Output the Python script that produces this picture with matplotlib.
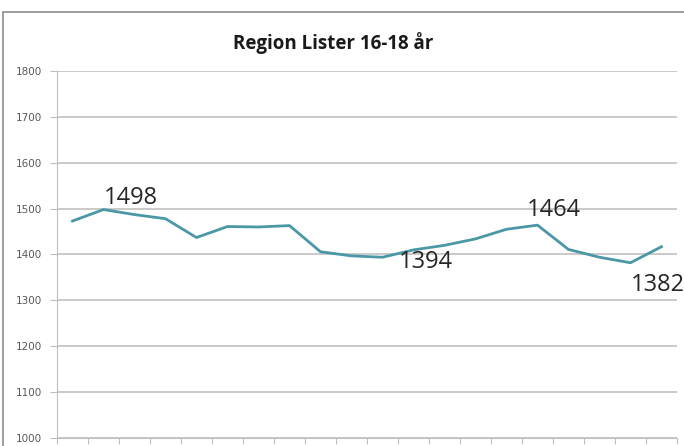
import numpy as np
import matplotlib.pyplot as plt
from matplotlib.patches import Rectangle

# values, one per period
verdier = [1473, 1498, 1487, 1478, 1437, 1461, 1460, 1463, 1406, 1397,
           1394, 1410, 1420, 1434, 1455, 1464, 1411, 1394, 1382, 1417]
yticks = [1000, 1100, 1200, 1300, 1400, 1500, 1600, 1700, 1800]
# labelled points: index and pixel offset of label
label_idx = [1, 10, 15, 18]
label_off = [(27, 12), (43, -5), (16, 15), (27, -22)]

x = np.arange(len(verdier))

fig = plt.figure(figsize=(6.84, 4.46), dpi=100)
fig.patch.set_facecolor('white')
ax = fig.add_axes([57/684, 8/446, 620/684, 367/446])

# gridlines
ax.set_axisbelow(True)
ax.yaxis.grid(True, color='#c6c6c6', linewidth=1.3)

ax.plot(x, verdier, color='#4a97a6', linewidth=2, solid_joinstyle='round')

for i, (dx, dy) in zip(label_idx, label_off):
    ax.annotate(str(verdier[i]), (x[i], verdier[i]), xytext=(dx, dy),
                textcoords='offset pixels', ha='center', va='center',
                fontsize=17, family='Open Sans', color='#262626',
                annotation_clip=False)

ax.set_xlim(-0.5, len(verdier) - 0.5)
ax.set_ylim(1000, 1800)
ax.set_yticks(yticks)
ax.set_yticklabels([str(t) for t in yticks], fontsize=7.5, color='#595959',
                   family='Liberation Sans Narrow')
ax.tick_params(axis='y', length=5, color='#bfbfbf', pad=6)
ax.set_xticks(np.arange(-0.5, len(verdier), 1))
ax.set_xticklabels([])
ax.tick_params(axis='x', length=4, color='#bfbfbf')

for s in ['top', 'right']:
    ax.spines[s].set_visible(False)
ax.spines['left'].set_color('#bfbfbf')
ax.spines['bottom'].set_color('#bfbfbf')

fig.text(333/684, 1 - 43/446, 'Region Lister 16-18 år', ha='center', va='center',
         fontsize=13.5, fontweight='bold', family='Open Sans', color='#1a1a1a')

# outer chart border
fig.patches.append(Rectangle((3/684, -0.1), 1.2, 1 - 12/446 + 0.1,
                             transform=fig.transFigure, fill=False,
                             edgecolor='#8c8c8c', linewidth=1.2))

fig.savefig('out.png', dpi=100)
